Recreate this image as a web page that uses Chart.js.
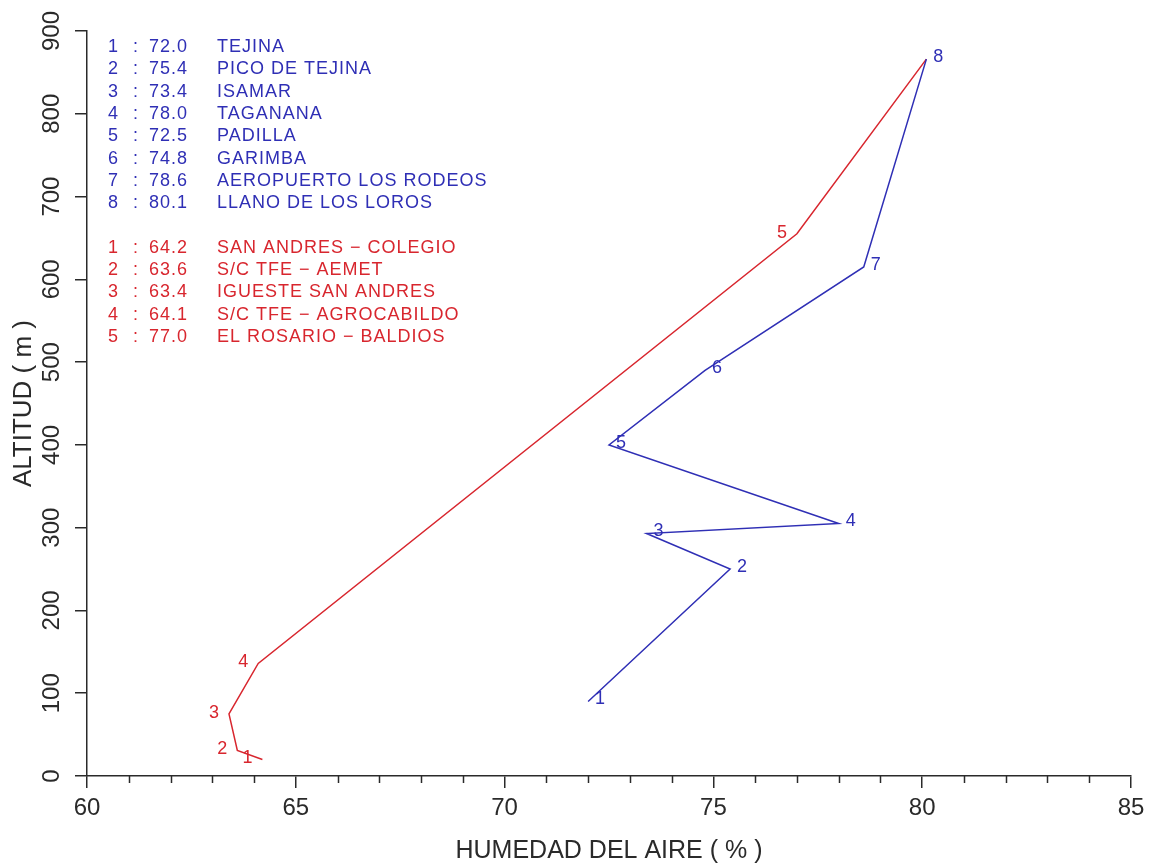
<!DOCTYPE html>
<html><head><meta charset="utf-8">
<script src="https://cdn.jsdelivr.net/npm/chart.js@4/dist/chart.umd.min.js"></script>
<style>html,body{margin:0;padding:0;background:#fff;}#wrap{width:1152px;height:864px;}</style>
</head><body><div id="wrap"><canvas id="c" width="1152" height="864"></canvas></div>
<script>
// ---- data ----
const xTickValues = [60, 65, 70, 75, 80, 85];
const yTickValues = [0, 100, 200, 300, 400, 500, 600, 700, 800, 900];
const northHumidity = [72.0, 75.4, 73.4, 78.0, 72.5, 74.8, 78.6, 80.1];
const northAltitude = [90, 250, 293, 305, 400, 490, 615, 866];
const northStations = ['TEJINA', 'PICO DE TEJINA', 'ISAMAR', 'TAGANANA', 'PADILLA', 'GARIMBA', 'AEROPUERTO LOS RODEOS', 'LLANO DE LOS LOROS'];
const southHumidity = [64.2, 63.6, 63.4, 64.1, 77.0];
const southAltitude = [20, 31, 75, 136, 655];
const southStations = ['SAN ANDRES \u2212 COLEGIO', 'S/C TFE \u2212 AEMET', 'IGUESTE SAN ANDRES', 'S/C TFE \u2212 AGROCABILDO', 'EL ROSARIO \u2212 BALDIOS'];
const xTitle = 'HUMEDAD DEL AIRE ( % )';
const yTitle = 'ALTITUD ( m )';

const BLUE = '#2f2fb5';
const RED = '#d8262e';
const AXIS = '#2a2a2a';
const FONT = '"Liberation Sans", Arial, sans-serif';

const northPts = northHumidity.map((x, i) => ({x, y: northAltitude[i]}));
const southPts = southHumidity.map((x, i) => ({x, y: southAltitude[i]}));
// red profile joins the top station (LLANO DE LOS LOROS)
const southLine = southPts.concat([northPts[northPts.length - 1]]);

const overlay = {
  id: 'overlay',
  afterDraw(chart) {
    const ctx = chart.ctx;
    const xs = chart.scales.x, ys = chart.scales.y;
    ctx.save();
    // minor ticks on x axis
    ctx.strokeStyle = AXIS; ctx.lineWidth = 1.5;
    for (let v = xs.min; v <= xs.max; v += 1) {
      if (xTickValues.includes(v)) continue;
      const px = Math.round(xs.getPixelForValue(v)) + 0.5;
      ctx.beginPath(); ctx.moveTo(px, ys.bottom); ctx.lineTo(px, ys.bottom + 7); ctx.stroke();
    }
    // point labels
    ctx.font = '18px ' + FONT;
    ctx.textAlign = 'center'; ctx.textBaseline = 'middle';
    ctx.fillStyle = BLUE;
    northPts.forEach((p, i) => {
      ctx.fillText(String(i + 1), xs.getPixelForValue(p.x) + 12, ys.getPixelForValue(p.y) - 2);
    });
    ctx.fillStyle = RED;
    southPts.forEach((p, i) => {
      ctx.fillText(String(i + 1), xs.getPixelForValue(p.x) - 15, ys.getPixelForValue(p.y) - 1);
    });
    // station list
    ctx.textAlign = 'left';
    if ('letterSpacing' in ctx) ctx.letterSpacing = '1px';
    const row = (color, y, n, v, name) => {
      ctx.fillStyle = color;
      ctx.fillText(String(n), 108, y);
      ctx.fillText(':', 133, y);
      ctx.fillText(v.toFixed(1), 149, y);
      ctx.fillText(name, 217, y);
    };
    northStations.forEach((s, i) => row(BLUE, 47 + 22.35 * i, i + 1, northHumidity[i], s));
    southStations.forEach((s, i) => row(RED, 248 + 22.2 * i, i + 1, southHumidity[i], s));
    ctx.restore();
  }
};

new Chart(document.getElementById('c'), {
  type: 'scatter',
  data: {
    datasets: [
      {data: northPts, showLine: true, borderColor: BLUE, borderWidth: 1.5, pointRadius: 0, tension: 0, fill: false},
      {data: southLine, showLine: true, borderColor: RED, borderWidth: 1.5, pointRadius: 0, tension: 0, fill: false}
    ]
  },
  options: {
    responsive: false,
    devicePixelRatio: 1,
    animation: false,
    layout: {padding: {top: 31, right: 21, left: 0, bottom: 0}},
    plugins: {legend: {display: false}, tooltip: {enabled: false}},
    scales: {
      x: {
        type: 'linear', min: 60, max: 85,
        afterBuildTicks: s => { s.ticks = xTickValues.map(v => ({value: v})); },
        afterFit: s => { s.height = 88; },
        ticks: {font: {size: 24, family: FONT}, color: AXIS, padding: 6, maxRotation: 0, autoSkip: false},
        grid: {drawOnChartArea: false, drawTicks: true, tickLength: 12, color: AXIS, lineWidth: 1.5},
        border: {display: true, color: AXIS, width: 1.5},
        title: {display: true, text: xTitle, color: AXIS, font: {size: 25, family: FONT, lineHeight: 1}, padding: {top: 0, bottom: 0}}
      },
      y: {
        type: 'linear', min: 0, max: 900,
        afterBuildTicks: s => { s.ticks = yTickValues.map(v => ({value: v})); },
        afterFit: s => { s.width = 87; },
        ticks: {font: {size: 24, family: FONT}, color: AXIS, padding: 3, minRotation: 90, maxRotation: 90, crossAlign: 'center', autoSkip: false},
        grid: {drawOnChartArea: false, drawTicks: true, tickLength: 12, color: AXIS, lineWidth: 1.5},
        border: {display: true, color: AXIS, width: 1.5},
        title: {display: true, text: yTitle, color: AXIS, font: {size: 26, family: FONT, lineHeight: 1}, padding: {top: 11, bottom: 0}}
      }
    }
  },
  plugins: [overlay]
});
</script>
</body></html>
